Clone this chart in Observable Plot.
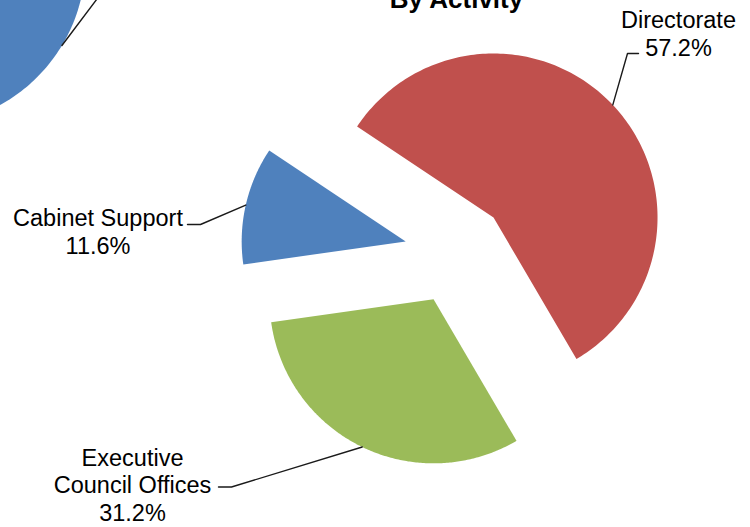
<!DOCTYPE html>
<html><head><meta charset="utf-8">
<script src="https://cdn.jsdelivr.net/npm/d3@7"></script>
<script src="https://cdn.jsdelivr.net/npm/@observablehq/plot@0.6"></script>
<style>html,body{margin:0;padding:0;background:#fff;overflow:hidden}#chart svg{display:block}</style>
</head><body><div id="chart"></div>
<script>
// ---- data ----
const title = "By Activity";
const categories = ["Directorate", "Executive Council Offices", "Cabinet Support"];
const shares = [57.2, 31.2, 11.6];
const labelLines = [["Directorate"], ["Executive", "Council Offices"], ["Cabinet Support"]];
const colors = ["#C0504D", "#9BBB59", "#4F81BD"];
// fragment of the neighbouring chart visible at top-left
const neighbourColor = "#4F81BD";

// ---- layout ----
const W = 750, H = 527;
const cx = 455.5, cy = 252.4, R = 164, explode = 51.6, startDeg = 303.7;
const labelLayout = [
  {tx: 678, ty: 55, elbow: [627, 53], end: [638, 53]},
  {tx: 132, ty: 520.5, elbow: [231, 486.5], end: [218, 486.5]},
  {tx: 97.5, ty: 253, elbow: [200, 224], end: [187, 224]}
];
const rad = d => d * Math.PI / 180;
const pt = (ox, oy, r, deg) => ({x: ox + r * Math.sin(rad(deg)), y: oy - r * Math.cos(rad(deg))});

const total = d3.sum(shares);
let acc = startDeg;
const slices = categories.map((name, i) => {
  const a0 = acc, a1 = acc + shares[i] / total * 360;
  acc = a1;
  const mid = (a0 + a1) / 2;
  const o = pt(cx, cy, explode, mid);
  const pts = [{x: o.x, y: o.y}];
  const n = 200;
  for (let k = 0; k <= n; k++) pts.push(pt(o.x, o.y, R, a0 + (a1 - a0) * k / n));
  const anchor = pt(o.x, o.y, R, mid);
  const L = labelLayout[i];
  const leader = [anchor, {x: L.elbow[0], y: L.elbow[1]}, {x: L.end[0], y: L.end[1]}];
  return {name, color: colors[i], pts, leader,
          label: {x: L.tx, y: L.ty, text: [...labelLines[i], shares[i].toFixed(1) + "%"].join("\n")}};
});

// neighbour fragment
const nb = {ox: -80, oy: -40, r: 165, a0: 80, a1: 200};
const nbPts = [{x: nb.ox, y: nb.oy}];
for (let k = 0; k <= 100; k++) nbPts.push(pt(nb.ox, nb.oy, nb.r, nb.a0 + (nb.a1 - nb.a0) * k / 100));
const nbA = pt(nb.ox, nb.oy, nb.r, 121);
const nbLeader = [nbA, pt(nbA.x, nbA.y, 70, 37)];

const font = "Liberation Sans, Arial, Helvetica, sans-serif";
const marks = [
  Plot.line(nbPts, {x: "x", y: "y", fill: neighbourColor, stroke: "none"}),
  Plot.line(nbLeader, {x: "x", y: "y", stroke: "#1a1a1a", strokeWidth: 1.4}),
  ...slices.map(s => Plot.line(s.pts, {x: "x", y: "y", fill: s.color, stroke: "none"})),
  ...slices.map(s => Plot.line(s.leader, {x: "x", y: "y", stroke: "#1a1a1a", strokeWidth: 1.4})),
  Plot.text(slices.map(s => s.label), {x: "x", y: "y", text: "text", lineAnchor: "bottom",
    lineHeight: 1.18, fontSize: 23.5, fill: "#000", textAnchor: "middle", fontFamily: font}),
  Plot.text([{x: 456, y: 7, text: title}], {x: "x", y: "y", text: "text", lineAnchor: "bottom",
    fontSize: 26, fontWeight: "bold", fill: "#000", textAnchor: "middle", fontFamily: font})
];

const chart = Plot.plot({
  width: W, height: H, margin: 0,
  x: {domain: [0, W], range: [0, W], axis: null},
  y: {domain: [0, H], range: [0, H], axis: null},
  style: {background: "#fff", fontFamily: font, overflow: "hidden"},
  marks
});
document.getElementById("chart").appendChild(chart);
</script>
</body></html>
